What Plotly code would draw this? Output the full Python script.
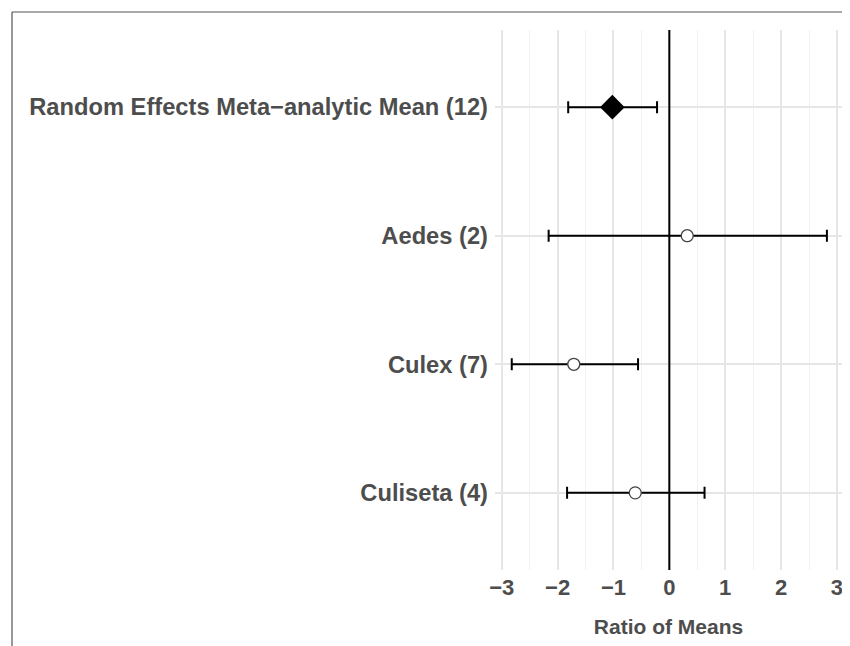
import plotly.graph_objects as go

categories = ["Random Effects Meta\u2212analytic Mean (12)", "Aedes (2)", "Culex (7)", "Culiseta (4)"]
y_pos = [4, 3, 2, 1]
estimate = [-1.02, 0.32, -1.71, -0.61]
ci_low = [-1.81, -2.16, -2.82, -1.83]
ci_high = [-0.22, 2.82, -0.56, 0.63]
x_ticks = [-3, -2, -1, 0, 1, 2, 3]

OFF = 8  # page body margin
W, H = 850 - OFF, 646 - OFF
L, R, T, B = 495 - OFF, 8, 30 - OFF, 646 - 570
pw, ph = W - L - R, H - T - B

FONT = "Liberation Sans, Arial, sans-serif"
GREY = "#4d4d4d"

fig = go.Figure()

# zero reference line
fig.add_trace(go.Scatter(x=[0, 0], y=[0.4, 4.6], mode="lines",
                         line=dict(color="black", width=2),
                         showlegend=False, hoverinfo="skip"))

def add_group(idx, symbol, size, fill, outline, lw):
    fig.add_trace(go.Scatter(
        x=[estimate[i] for i in idx], y=[y_pos[i] for i in idx],
        mode="markers",
        marker=dict(symbol=symbol, size=size, color=fill, line=dict(color=outline, width=lw)),
        error_x=dict(type="data", symmetric=False,
                     array=[ci_high[i] - estimate[i] for i in idx],
                     arrayminus=[estimate[i] - ci_low[i] for i in idx],
                     color="black", thickness=2, width=6),
        showlegend=False, hoverinfo="skip"))

add_group([0], "diamond", 19, "black", "black", 0)
add_group([1, 2, 3], "circle", 12, "white", "#444444", 1.3)

fig.update_layout(
    width=W, height=H,
    margin=dict(l=L, r=R, t=T, b=B),
    paper_bgcolor="white", plot_bgcolor="white",
    font=dict(family=FONT, color=GREY, size=17),
    xaxis=dict(range=[-3.12, 3.09], tickvals=x_ticks,
               ticktext=[("\u2212" + str(-v)) if v < 0 else str(v) for v in x_ticks],
               showgrid=True, gridcolor="#e6e6e6", gridwidth=1.5,
               minor=dict(dtick=0.5, tick0=0.5, showgrid=True, gridcolor="#f1f1f1", gridwidth=1),
               zeroline=False, showline=False, ticks="",
               tickfont=dict(family=FONT, color=GREY, size=22, weight="bold"),
               ticklabelstandoff=2,
               title=dict(text="<b>Ratio of Means</b>", font=dict(family=FONT, size=21, color=GREY), standoff=20)),
    yaxis=dict(range=[0.4, 4.6], tickvals=y_pos, ticktext=["<b>%s</b>" % c for c in categories],
               showgrid=True, gridcolor="#e6e6e6", gridwidth=1.5,
               zeroline=False, showline=False, ticks="",
               tickfont=dict(family=FONT, color=GREY, size=23.7),
               ticklabelstandoff=6),
)

# outer frame lines (top and left)
def px_x(p):
    return (p - OFF - L) / pw

def px_y(p):
    return (H - B - (p - OFF)) / ph

fig.add_shape(type="line", xref="paper", yref="paper", x0=px_x(12), x1=px_x(860), y0=px_y(12), y1=px_y(12),
              line=dict(color="#555555", width=1.2))
fig.add_shape(type="line", xref="paper", yref="paper", x0=px_x(12), x1=px_x(12), y0=px_y(12), y1=px_y(660),
              line=dict(color="#555555", width=1.2))

fig.write_html("out.html")
